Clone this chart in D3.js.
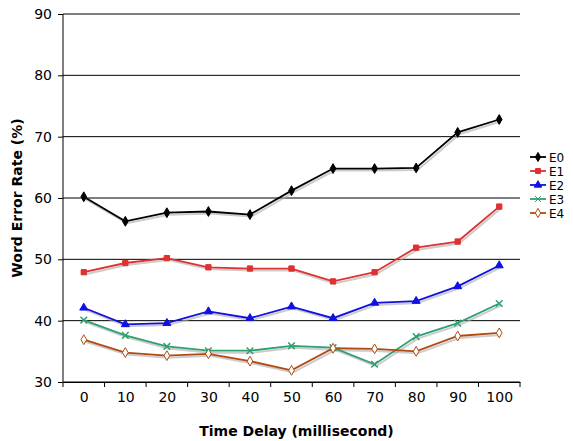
<!DOCTYPE html><html><head><script src="https://cdn.jsdelivr.net/npm/d3@7"></script>
<style>body{margin:0;background:#fff}text{font-family:Verdana,"DejaVu Sans",sans-serif}</style></head><body><svg id="c" width="573" height="441"></svg><script>
const categories=["0","10","20","30","40","50","60","70","80","90","100"];
const E0=[60.2,56.2,57.6,57.8,57.3,61.2,64.8,64.8,64.9,70.7,72.8];
const E1=[47.9,49.4,50.2,48.7,48.5,48.5,46.4,47.9,51.9,52.9,58.6];
const E2=[42.1,39.4,39.6,41.5,40.4,42.3,40.4,42.9,43.2,45.6,49.0];
const E3=[40.1,37.6,35.8,35.1,35.1,35.9,35.6,32.9,37.4,39.6,42.8];
const E4=[36.9,34.8,34.3,34.6,33.4,31.9,35.5,35.4,35.0,37.5,38.0];
const yTicks=[30,40,50,60,70,80,90];
const series=[
 {name:"E0",data:E0,color:"#000000",sym:"diamond",fill:true},
 {name:"E1",data:E1,color:"#e03030",sym:"square",fill:true},
 {name:"E2",data:E2,color:"#1010e0",sym:"triangle",fill:true},
 {name:"E3",data:E3,color:"#30a070",sym:"cross",fill:true},
 {name:"E4",data:E4,color:"#b04a10",sym:"diamond",fill:false}];
const svg=d3.select("#c");
const L=63,R=520,T=14,B=382;
const x=d3.scalePoint().domain(categories).range([L,R]).padding(0.5);
const y=d3.scaleLinear().domain([30,90]).range([B,T]);
const g=svg.append("g");
g.selectAll(".gl").data(yTicks).join("line").attr("x1",L).attr("x2",R).attr("y1",d=>y(d)).attr("y2",d=>y(d)).attr("stroke","#000").attr("stroke-width",1);
g.append("line").attr("x1",L).attr("x2",L).attr("y1",T).attr("y2",B).attr("stroke","#000");
const ya=svg.append("g").attr("transform",`translate(${L},0)`).call(d3.axisLeft(y).tickValues(yTicks).tickSize(5).tickPadding(6));
ya.select(".domain").remove();
ya.selectAll("text").attr("font-size",14).attr("font-family","Verdana,DejaVu Sans");
const xa=svg.append("g").attr("transform",`translate(0,${B})`).call(d3.axisBottom(x).tickSize(0).tickPadding(10));
xa.select(".domain").attr("stroke","#000");
xa.selectAll("text").attr("font-size",14).attr("font-family","Verdana,DejaVu Sans");
const xt=d3.scaleLinear().domain([0,categories.length]).range([L,R]);
svg.selectAll(".xt").data(d3.range(categories.length+1)).join("line").attr("x1",d=>xt(d)).attr("x2",d=>xt(d)).attr("y1",B).attr("y2",B+5).attr("stroke","#000");
const symMap={diamond:d3.symbolDiamond,square:d3.symbolSquare,triangle:d3.symbolTriangle,cross:d3.symbolX};
const line=d3.line().x((d,i)=>x(categories[i])).y(d=>y(d));
series.forEach(s=>{
 svg.append("path").attr("d",line(s.data)).attr("transform","translate(1.5,2)").attr("fill","none").attr("stroke","#aaa").attr("stroke-width",2).attr("opacity",0.6);
});
series.forEach(s=>{
 svg.append("path").attr("d",line(s.data)).attr("fill","none").attr("stroke",s.color).attr("stroke-width",1.8);
 const sym=d3.symbol().type(symMap[s.sym]).size(s.sym=="cross"?30:28);
 svg.selectAll(null).data(s.data).join("path").attr("d",sym).attr("transform",(d,i)=>`translate(${x(categories[i])},${y(d)})`)
  .attr("fill",s.fill?s.color:"#fff").attr("stroke",s.color).attr("stroke-width",s.sym=="cross"?1.5:1);
});
const lg=svg.append("g").attr("transform","translate(530,157)");
series.forEach((s,i)=>{
 const gg=lg.append("g").attr("transform",`translate(0,${i*14})`);
 gg.append("line").attr("x1",0).attr("x2",16).attr("stroke",s.color).attr("stroke-width",1.8);
 gg.append("path").attr("d",d3.symbol().type(symMap[s.sym]).size(24)).attr("transform","translate(8,0)").attr("fill",s.fill?s.color:"#fff").attr("stroke",s.color);
 gg.append("text").attr("x",19).attr("y",4.5).attr("font-size",12).text(s.name);
});
svg.append("text").attr("x",(L+R)/2+5).attr("y",436).attr("text-anchor","middle").attr("font-size",14).attr("font-weight","bold").text("Time Delay (millisecond)");
svg.append("text").attr("transform",`translate(22,${(T+B)/2}) rotate(-90)`).attr("text-anchor","middle").attr("font-size",14).attr("font-weight","bold").text("Word Error Rate (%)");
</script></body></html>
